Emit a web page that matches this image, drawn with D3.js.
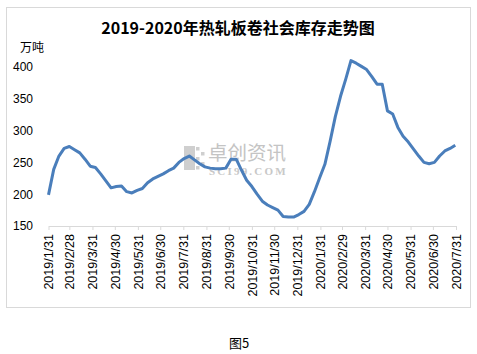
<!DOCTYPE html>
<html>
<head>
<meta charset="utf-8">
<script src="https://cdn.jsdelivr.net/npm/d3@7"></script>
<style>
  body { margin: 0; background: #fff; }
  text { font-family: "Liberation Sans", Arial, sans-serif; }
</style>
</head>
<body>
<div id="target"></div>
<script>
// weekly stock, 10k tonnes, first week 2019/1/31
var startDate = '2019-01-31';
var stock = [199, 239, 260, 272, 275, 270, 265, 255, 244, 242,
  232, 221, 210, 212, 213, 204, 202, 206, 209, 218,
  224, 228, 232, 237, 241, 250, 256, 260, 254, 248,
  243, 241, 240, 240, 241, 255, 255, 238, 222, 212,
  200, 189, 183, 179, 175, 165, 164, 164, 168, 173,
  184, 204, 226, 247, 283, 322, 354, 381, 410, 406,
  401, 396, 385, 373, 373, 331, 326, 305, 291, 282,
  271, 260, 250, 248, 250, 260, 268, 272, 277];
var xTickLabels = ['2019/1/31', '2019/2/28', '2019/3/31', '2019/4/30', '2019/5/31',
  '2019/6/30', '2019/7/31', '2019/8/31', '2019/9/30', '2019/10/31', '2019/11/30',
  '2019/12/31', '2020/1/31', '2020/2/29', '2020/3/31', '2020/4/30', '2020/5/31',
  '2020/6/30', '2020/7/31'];
var yTicks = [150, 200, 250, 300, 350, 400];

var parse = d3.timeParse('%Y/%m/%d');
var t0 = d3.timeParse('%Y-%m-%d')(startDate);
var data = stock.map(function(v, i) { return { date: d3.timeDay.offset(t0, i * 7), value: v }; });
var tickDates = xTickLabels.map(function(s) { return parse(s); });

var svg = d3.select('#target').append('svg')
  .attr('width', 477)
  .attr('height', 354);

// frame
svg.append('rect')
  .attr('x', 6.5).attr('y', 7.5)
  .attr('width', 464).attr('height', 300)
  .attr('fill', '#fff')
  .attr('stroke', '#d9d9d9');

var x = d3.scaleTime()
  .domain([tickDates[0], tickDates[tickDates.length - 1]])
  .range([48.5, 456]);
var y = d3.scaleLinear()
  .domain([150, 400])
  .range([226, 67]);

// watermark
var wm = svg.append('g');
wm.append('rect').attr('x', 184).attr('y', 146).attr('width', 11).attr('height', 24).attr('fill', '#cfcfcf');
[[196, 147], [201, 152], [196, 157], [201, 162], [196, 166]].forEach(function(p) {
  wm.append('rect').attr('x', p[0]).attr('y', p[1]).attr('width', 3.5).attr('height', 3.5).attr('fill', '#cfcfcf');
});
wm.append('text').attr('x', 208).attr('y', 160)
  .style('font-family', '"Noto Sans CJK SC"').style('font-size', '19.5px')
  .attr('fill', '#c4c4c4').text('卓创资讯');
wm.append('text').attr('x', 209).attr('y', 175)
  .style('font-family', '"Liberation Serif"').style('font-size', '11px')
  .style('font-weight', 'bold')
  .style('letter-spacing', '2.2px')
  .attr('fill', '#c8c8c8').text('SCI99.COM');

// x axis
var xAxis = svg.append('g')
  .attr('transform', 'translate(0,226)')
  .call(d3.axisBottom(x).tickValues(tickDates).tickSize(4).tickSizeOuter(0)
    .tickFormat(function(d, i) { return xTickLabels[i]; }));
xAxis.select('.domain').attr('stroke', '#d9d9d9');
xAxis.selectAll('.tick line').attr('stroke', '#d9d9d9');
xAxis.selectAll('.tick text')
  .attr('transform', 'rotate(-90)')
  .attr('x', -8).attr('y', 0).attr('dy', '0.35em')
  .style('text-anchor', 'end')
  .style('font-size', '12.5px')
  .attr('fill', '#000');

// y labels only
var yAxis = svg.append('g')
  .attr('transform', 'translate(33,0)')
  .call(d3.axisLeft(y).tickValues(yTicks).tickSize(0).tickPadding(0));
yAxis.select('.domain').remove();
yAxis.selectAll('.tick text').style('font-size', '12px').attr('fill', '#000');

var line = d3.line()
  .x(function(d) { return x(d.date); })
  .y(function(d) { return y(d.value); });

svg.append('path')
  .datum(data)
  .attr('d', line)
  .attr('fill', 'none')
  .attr('stroke', '#4a7ebb')
  .attr('stroke-width', 3)
  .attr('stroke-linejoin', 'round');

svg.append('text')
  .attr('x', 238).attr('y', 34)
  .attr('text-anchor', 'middle')
  .style('font-family', '"Noto Sans CJK SC"')
  .style('font-size', '16px')
  .style('font-weight', 'bold')
  .text('2019-2020年热轧板卷社会库存走势图');

svg.append('text')
  .attr('x', 20).attr('y', 52)
  .style('font-family', '"Noto Sans CJK SC"')
  .style('font-size', '12px')
  .text('万吨');

svg.append('text')
  .attr('x', 239).attr('y', 348)
  .attr('text-anchor', 'middle')
  .style('font-family', '"Noto Sans CJK SC"')
  .style('font-size', '13px')
  .text('图5');
</script>
</body>
</html>
